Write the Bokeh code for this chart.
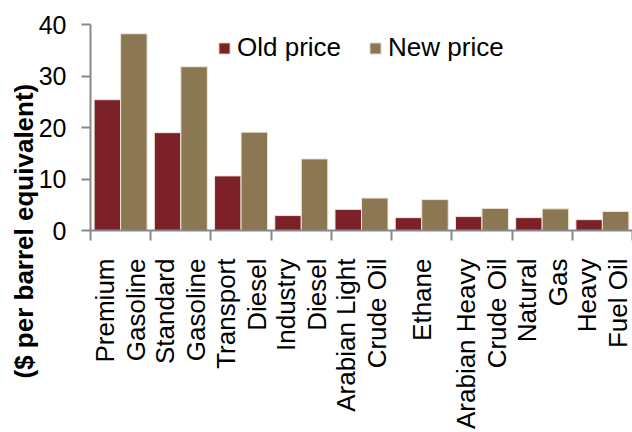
import math
from bokeh.plotting import figure
from bokeh.models import Range1d, FixedTicker, Legend, LegendItem, ColumnDataSource, Title
from bokeh.embed import file_html
from bokeh.resources import INLINE

categories = ["Premium\nGasoline", "Standard\nGasoline", "Transport\nDiesel",
              "Industry\nDiesel", "Arabian Light\nCrude Oil", "Ethane",
              "Arabian Heavy\nCrude Oil", "Natural\nGas", "Heavy\nFuel Oil"]
old_price = [25.4, 19.0, 10.6, 2.9, 4.1, 2.5, 2.7, 2.5, 2.1]
new_price = [38.2, 31.8, 19.1, 13.9, 6.3, 6.0, 4.3, 4.2, 3.7]
y_ticks = [0, 10, 20, 30, 40]
y_title = "($ per barrel equivalent)"
series_names = ["Old price", "New price"]

OLD_COLOR = "#7D2129"
NEW_COLOR = "#8C7753"
AXIS_COLOR = "#888888"
FONT = "Liberation Sans"

W, H = 632, 432
LEFT, TOP, BOTTOM = 90, 24, 202
n = len(categories)
idx = list(range(n))
src = ColumnDataSource(dict(
    old_x=[i + 0.28 for i in idx],
    new_x=[i + 0.72 for i in idx],
    old=old_price,
    new=new_price,
))

p = figure(width=W, height=H, output_backend="svg", toolbar_location=None,
           x_range=Range1d(0, n), y_range=Range1d(0, 40),
           min_border_left=LEFT, min_border_right=0, min_border_top=TOP, min_border_bottom=BOTTOM)
p.outline_line_color = None
p.xgrid.visible = False
p.ygrid.visible = False
p.background_fill_color = "white"
p.border_fill_color = "white"

r_old = p.vbar(x="old_x", top="old", width=0.44, source=src,
               fill_color=OLD_COLOR, line_color="#EEE8DA", line_width=1)
r_new = p.vbar(x="new_x", top="new", width=0.44, source=src,
               fill_color=NEW_COLOR, line_color="#EEE8DA", line_width=1)

# x axis: each text line of a category label is its own tick label,
# placed side by side around the category centre; tick marks at boundaries
frame_w = W - LEFT
unit_px = frame_w / n
line_gap = 31.0 / unit_px
tick_pos, tick_txt = [], []
for i, c in zip(idx, categories):
    lines = c.split("\n")
    m = len(lines)
    for k, ln in enumerate(lines):
        pos = round(i + 0.5 + (k - (m - 1) / 2) * line_gap, 4)
        tick_pos.append(pos)
        tick_txt.append(ln)

xa = p.xaxis[0]
xa.ticker = FixedTicker(ticks=tick_pos, minor_ticks=list(range(n + 1)))
xa.major_label_overrides = {pos: t for pos, t in zip(tick_pos, tick_txt)}
xa.major_label_orientation = math.pi / 2
xa.major_tick_line_color = None
xa.major_tick_out = 0
xa.major_tick_in = 0
xa.minor_tick_out = 10
xa.minor_tick_in = 0
xa.minor_tick_line_color = AXIS_COLOR
xa.minor_tick_line_width = 2
xa.axis_line_color = AXIS_COLOR
xa.axis_line_width = 2
xa.major_label_standoff = 18
xa.major_label_text_font = FONT
xa.major_label_text_font_size = "26px"
xa.major_label_text_color = "black"

ya = p.yaxis[0]
ya.ticker = FixedTicker(ticks=y_ticks, minor_ticks=[])
ya.major_tick_out = 9
ya.major_tick_in = 0
ya.major_tick_line_color = AXIS_COLOR
ya.major_tick_line_width = 2
ya.axis_line_color = AXIS_COLOR
ya.axis_line_width = 2
ya.major_label_standoff = 15
ya.major_label_text_font = FONT
ya.major_label_text_font_size = "25px"
ya.major_label_text_color = "black"

ytitle = Title(text=y_title, align="left", offset=-148, standoff=-7,
               text_font=FONT, text_font_size="26px", text_font_style="bold",
               text_color="black")
p.add_layout(ytitle, "left")

legend = Legend(items=[LegendItem(label=series_names[0], renderers=[r_old]),
                       LegendItem(label=series_names[1], renderers=[r_new])],
                orientation="horizontal", location=(127, 167),
                background_fill_alpha=0, border_line_color=None,
                padding=0, margin=0, spacing=27, label_standoff=6,
                glyph_width=14, glyph_height=14,
                label_text_font=FONT, label_text_font_size="26px",
                label_text_color="black")
p.add_layout(legend)

open("out.html", "w").write(file_html(p, INLINE))
